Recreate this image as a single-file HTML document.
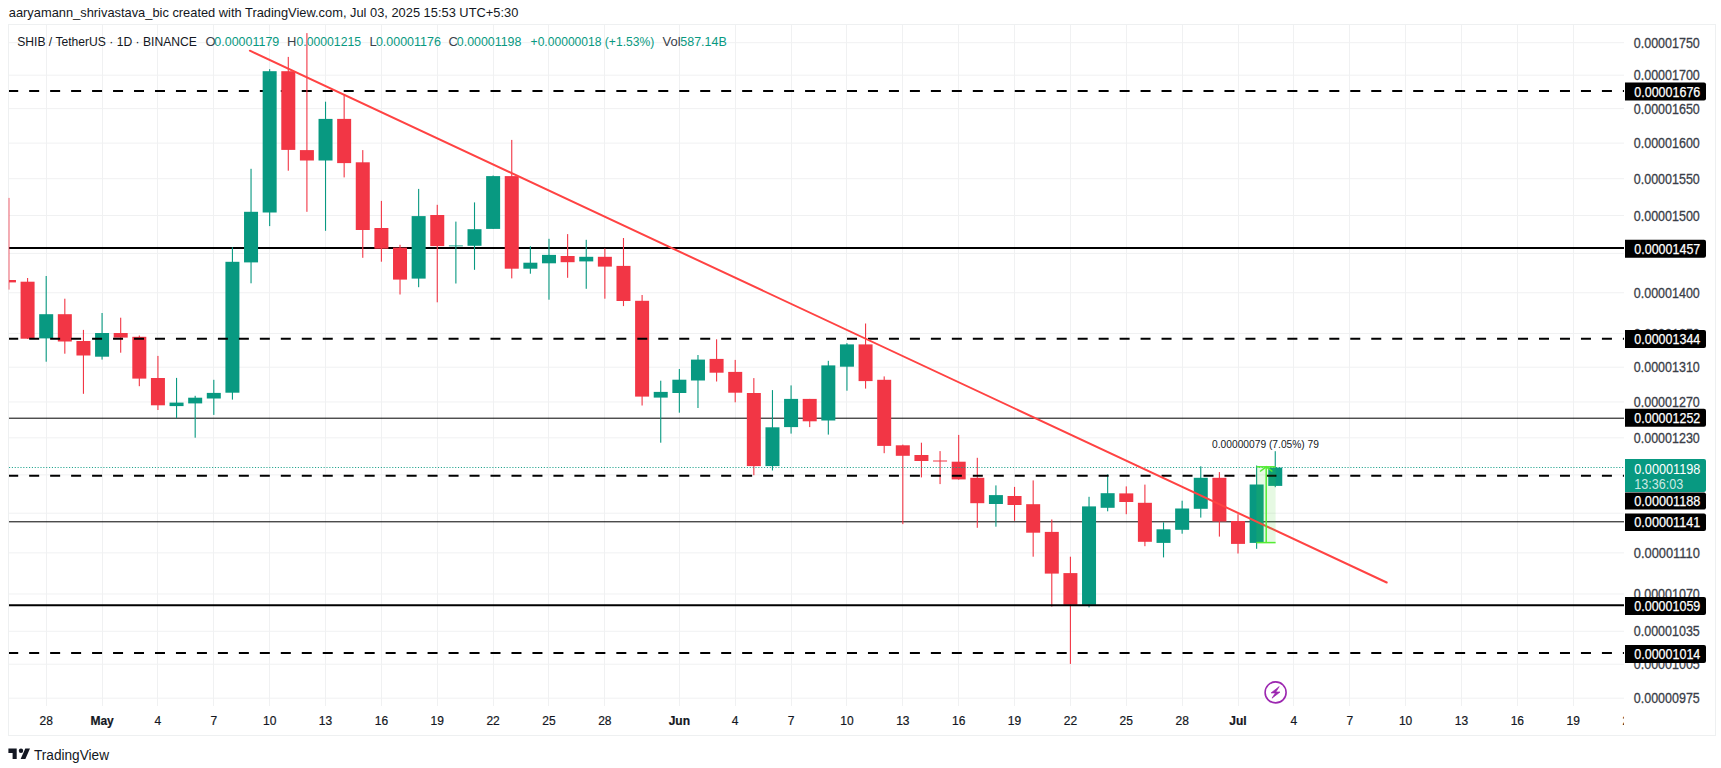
<!DOCTYPE html><html><head><meta charset="utf-8"><style>
html,body{margin:0;padding:0;background:#fff;width:1721px;height:768px;overflow:hidden;}
body{position:relative;font-family:"Liberation Sans",Arial,sans-serif;}
.t{position:absolute;white-space:nowrap;}
</style></head><body>
<svg width="1721" height="768" viewBox="0 0 1721 768" style="position:absolute;left:0;top:0">
<defs><clipPath id="taxis"><rect x="9" y="706" width="1615" height="30"/></clipPath><clipPath id="pane"><rect x="9" y="25" width="1615" height="681"/></clipPath></defs>
<rect x="8.5" y="24.5" width="1707" height="711" fill="none" stroke="#eef0f1" stroke-width="1"/>
<g stroke="#f0f1f2" stroke-width="1">
<line x1="9" y1="42.7" x2="1624" y2="42.7"/>
<line x1="9" y1="75.18" x2="1624" y2="75.18"/>
<line x1="9" y1="108.64" x2="1624" y2="108.64"/>
<line x1="9" y1="143.12" x2="1624" y2="143.12"/>
<line x1="9" y1="178.7" x2="1624" y2="178.7"/>
<line x1="9" y1="215.44" x2="1624" y2="215.44"/>
<line x1="9" y1="253.43" x2="1624" y2="253.43"/>
<line x1="9" y1="292.75" x2="1624" y2="292.75"/>
<line x1="9" y1="333.51" x2="1624" y2="333.51"/>
<line x1="9" y1="367.21" x2="1624" y2="367.21"/>
<line x1="9" y1="401.96" x2="1624" y2="401.96"/>
<line x1="9" y1="437.83" x2="1624" y2="437.83"/>
<line x1="9" y1="474.87" x2="1624" y2="474.87"/>
<line x1="9" y1="513.19" x2="1624" y2="513.19"/>
<line x1="9" y1="552.86" x2="1624" y2="552.86"/>
<line x1="9" y1="593.99" x2="1624" y2="593.99"/>
<line x1="9" y1="631.26" x2="1624" y2="631.26"/>
<line x1="9" y1="664.22" x2="1624" y2="664.22"/>
<line x1="9" y1="698.18" x2="1624" y2="698.18"/>
<line x1="46.5" y1="25" x2="46.5" y2="706"/>
<line x1="102.5" y1="25" x2="102.5" y2="706"/>
<line x1="157.5" y1="25" x2="157.5" y2="706"/>
<line x1="213.5" y1="25" x2="213.5" y2="706"/>
<line x1="269.5" y1="25" x2="269.5" y2="706"/>
<line x1="325.5" y1="25" x2="325.5" y2="706"/>
<line x1="381.5" y1="25" x2="381.5" y2="706"/>
<line x1="437.5" y1="25" x2="437.5" y2="706"/>
<line x1="493.5" y1="25" x2="493.5" y2="706"/>
<line x1="548.5" y1="25" x2="548.5" y2="706"/>
<line x1="604.5" y1="25" x2="604.5" y2="706"/>
<line x1="679.5" y1="25" x2="679.5" y2="706"/>
<line x1="735.5" y1="25" x2="735.5" y2="706"/>
<line x1="791.5" y1="25" x2="791.5" y2="706"/>
<line x1="846.5" y1="25" x2="846.5" y2="706"/>
<line x1="902.5" y1="25" x2="902.5" y2="706"/>
<line x1="958.5" y1="25" x2="958.5" y2="706"/>
<line x1="1014.5" y1="25" x2="1014.5" y2="706"/>
<line x1="1070.5" y1="25" x2="1070.5" y2="706"/>
<line x1="1126.5" y1="25" x2="1126.5" y2="706"/>
<line x1="1182.5" y1="25" x2="1182.5" y2="706"/>
<line x1="1238.5" y1="25" x2="1238.5" y2="706"/>
<line x1="1293.5" y1="25" x2="1293.5" y2="706"/>
<line x1="1349.5" y1="25" x2="1349.5" y2="706"/>
<line x1="1405.5" y1="25" x2="1405.5" y2="706"/>
<line x1="1461.5" y1="25" x2="1461.5" y2="706"/>
<line x1="1517.5" y1="25" x2="1517.5" y2="706"/>
<line x1="1573.5" y1="25" x2="1573.5" y2="706"/>
</g>
<g clip-path="url(#pane)">
<line x1="8.2" y1="91" x2="1624" y2="91" stroke="#000" stroke-width="2" stroke-dasharray="10 10.97"/>
<line x1="9" y1="248" x2="1624" y2="248" stroke="#000" stroke-width="2"/>
<line x1="9" y1="418.2" x2="1624" y2="418.2" stroke="#000" stroke-width="1"/>
<line x1="9" y1="521.8" x2="1624" y2="521.8" stroke="#000" stroke-width="1"/>
</g><rect x="8.3" y="197.9" width="1.5" height="91.7" fill="#F23645" fill-opacity="0.5"/><g clip-path="url(#pane)">
<rect x="1.96" y="280" width="14" height="2.4" fill="#F23645"/>
<rect x="27.03" y="278" width="1.1" height="60.9" fill="#F23645"/>
<rect x="20.58" y="281.7" width="14" height="57" fill="#F23645"/>
<rect x="45.65" y="276" width="1.1" height="85.7" fill="#089981"/>
<rect x="39.2" y="314.2" width="14" height="24.2" fill="#089981"/>
<rect x="64.27" y="298.7" width="1.1" height="55" fill="#F23645"/>
<rect x="57.82" y="314.2" width="14" height="27.3" fill="#F23645"/>
<rect x="82.89" y="329.9" width="1.1" height="63.9" fill="#F23645"/>
<rect x="76.44" y="341" width="14" height="14.5" fill="#F23645"/>
<rect x="101.52" y="313" width="1.1" height="46.6" fill="#089981"/>
<rect x="95.07" y="333" width="14" height="23.7" fill="#089981"/>
<rect x="120.14" y="317.7" width="1.1" height="35" fill="#F23645"/>
<rect x="113.69" y="333" width="14" height="4.6" fill="#F23645"/>
<rect x="138.76" y="335.5" width="1.1" height="50.7" fill="#F23645"/>
<rect x="132.31" y="336.8" width="14" height="41.8" fill="#F23645"/>
<rect x="157.38" y="355.9" width="1.1" height="54.1" fill="#F23645"/>
<rect x="150.93" y="378" width="14" height="27.3" fill="#F23645"/>
<rect x="176" y="377.9" width="1.1" height="40.2" fill="#089981"/>
<rect x="169.55" y="402.6" width="14" height="3.5" fill="#089981"/>
<rect x="194.63" y="395.8" width="1.1" height="41.9" fill="#089981"/>
<rect x="188.18" y="397.7" width="14" height="5.7" fill="#089981"/>
<rect x="213.25" y="379.8" width="1.1" height="35.1" fill="#089981"/>
<rect x="206.8" y="392.9" width="14" height="5.6" fill="#089981"/>
<rect x="231.87" y="247.2" width="1.1" height="152.4" fill="#089981"/>
<rect x="225.42" y="261.8" width="14" height="130.9" fill="#089981"/>
<rect x="250.49" y="168.8" width="1.1" height="114.5" fill="#089981"/>
<rect x="244.04" y="211.8" width="14" height="50.6" fill="#089981"/>
<rect x="269.11" y="69.1" width="1.1" height="157" fill="#089981"/>
<rect x="262.66" y="71.2" width="14" height="141.3" fill="#089981"/>
<rect x="287.74" y="56.9" width="1.1" height="113.8" fill="#F23645"/>
<rect x="281.29" y="71.2" width="14" height="78.7" fill="#F23645"/>
<rect x="306.36" y="33.1" width="1.1" height="178.7" fill="#F23645"/>
<rect x="299.91" y="150.1" width="14" height="10.4" fill="#F23645"/>
<rect x="324.98" y="101.7" width="1.1" height="129.1" fill="#089981"/>
<rect x="318.53" y="118.9" width="14" height="41.6" fill="#089981"/>
<rect x="343.6" y="94.1" width="1.1" height="83.3" fill="#F23645"/>
<rect x="337.15" y="118.9" width="14" height="44.2" fill="#F23645"/>
<rect x="362.22" y="150.1" width="1.1" height="107.7" fill="#F23645"/>
<rect x="355.77" y="162.3" width="14" height="67.7" fill="#F23645"/>
<rect x="380.85" y="200.9" width="1.1" height="60.8" fill="#F23645"/>
<rect x="374.4" y="228" width="14" height="20.7" fill="#F23645"/>
<rect x="399.47" y="244.8" width="1.1" height="49.7" fill="#F23645"/>
<rect x="393.02" y="247.6" width="14" height="32" fill="#F23645"/>
<rect x="418.09" y="188.9" width="1.1" height="98.3" fill="#089981"/>
<rect x="411.64" y="216.1" width="14" height="62.5" fill="#089981"/>
<rect x="436.71" y="204.8" width="1.1" height="97.5" fill="#F23645"/>
<rect x="430.26" y="215" width="14" height="31.1" fill="#F23645"/>
<rect x="455.33" y="221.6" width="1.1" height="61.9" fill="#089981"/>
<rect x="448.88" y="245.1" width="14" height="1.4" fill="#089981" fill-opacity="0.6"/>
<rect x="473.96" y="202.4" width="1.1" height="67.4" fill="#089981"/>
<rect x="467.51" y="229.2" width="14" height="16.6" fill="#089981"/>
<rect x="492.58" y="175.5" width="1.1" height="53.4" fill="#089981"/>
<rect x="486.13" y="176.1" width="14" height="52.8" fill="#089981"/>
<rect x="511.2" y="139.9" width="1.1" height="138.5" fill="#F23645"/>
<rect x="504.75" y="176.1" width="14" height="92.6" fill="#F23645"/>
<rect x="529.82" y="246.3" width="1.1" height="27.4" fill="#089981"/>
<rect x="523.37" y="262.7" width="14" height="6" fill="#089981"/>
<rect x="548.44" y="238.8" width="1.1" height="60.9" fill="#089981"/>
<rect x="541.99" y="254.9" width="14" height="8.4" fill="#089981"/>
<rect x="567.07" y="234.1" width="1.1" height="43.7" fill="#F23645"/>
<rect x="560.62" y="256" width="14" height="6.2" fill="#F23645"/>
<rect x="585.69" y="239.8" width="1.1" height="49" fill="#089981"/>
<rect x="579.24" y="256.8" width="14" height="4.6" fill="#089981"/>
<rect x="604.31" y="248.4" width="1.1" height="50.3" fill="#F23645"/>
<rect x="597.86" y="256.8" width="14" height="9.8" fill="#F23645"/>
<rect x="622.93" y="238" width="1.1" height="68.1" fill="#F23645"/>
<rect x="616.48" y="265.9" width="14" height="35.1" fill="#F23645"/>
<rect x="641.55" y="295" width="1.1" height="110.5" fill="#F23645"/>
<rect x="635.1" y="300.8" width="14" height="95.8" fill="#F23645"/>
<rect x="660.18" y="380.7" width="1.1" height="62" fill="#089981"/>
<rect x="653.73" y="391.9" width="14" height="5.7" fill="#089981"/>
<rect x="678.8" y="369" width="1.1" height="43.7" fill="#089981"/>
<rect x="672.35" y="379.7" width="14" height="13.3" fill="#089981"/>
<rect x="697.42" y="355" width="1.1" height="53" fill="#089981"/>
<rect x="690.97" y="359.6" width="14" height="20.9" fill="#089981"/>
<rect x="716.04" y="339.3" width="1.1" height="42.2" fill="#F23645"/>
<rect x="709.59" y="358.9" width="14" height="13.8" fill="#F23645"/>
<rect x="734.66" y="359.9" width="1.1" height="42.4" fill="#F23645"/>
<rect x="728.21" y="371.9" width="14" height="20.8" fill="#F23645"/>
<rect x="753.29" y="378.1" width="1.1" height="97.1" fill="#F23645"/>
<rect x="746.84" y="393" width="14" height="73.1" fill="#F23645"/>
<rect x="771.91" y="390.1" width="1.1" height="80.4" fill="#089981"/>
<rect x="765.46" y="427.3" width="14" height="38.8" fill="#089981"/>
<rect x="790.53" y="385.4" width="1.1" height="48.2" fill="#089981"/>
<rect x="784.08" y="398.9" width="14" height="28.2" fill="#089981"/>
<rect x="809.15" y="398.9" width="1.1" height="28.2" fill="#F23645"/>
<rect x="802.7" y="398.9" width="14" height="22.4" fill="#F23645"/>
<rect x="827.77" y="360.8" width="1.1" height="73.8" fill="#089981"/>
<rect x="821.32" y="365.4" width="14" height="55.1" fill="#089981"/>
<rect x="846.4" y="343.1" width="1.1" height="47.6" fill="#089981"/>
<rect x="839.95" y="344.4" width="14" height="22.3" fill="#089981"/>
<rect x="865.02" y="323.5" width="1.1" height="65.1" fill="#F23645"/>
<rect x="858.57" y="344.4" width="14" height="36.7" fill="#F23645"/>
<rect x="883.64" y="376.4" width="1.1" height="76.8" fill="#F23645"/>
<rect x="877.19" y="379.8" width="14" height="66.1" fill="#F23645"/>
<rect x="902.26" y="444.6" width="1.1" height="79.5" fill="#F23645"/>
<rect x="895.81" y="445.3" width="14" height="10.5" fill="#F23645"/>
<rect x="920.88" y="442.7" width="1.1" height="34.7" fill="#F23645"/>
<rect x="914.43" y="455" width="14" height="6" fill="#F23645"/>
<rect x="939.51" y="451.1" width="1.1" height="33" fill="#F23645"/>
<rect x="933.06" y="460.5" width="14" height="1" fill="#F23645"/>
<rect x="958.13" y="434.9" width="1.1" height="44.8" fill="#F23645"/>
<rect x="951.68" y="461.7" width="14" height="17.7" fill="#F23645"/>
<rect x="976.75" y="457.8" width="1.1" height="70" fill="#F23645"/>
<rect x="970.3" y="477.8" width="14" height="25.4" fill="#F23645"/>
<rect x="995.37" y="485.4" width="1.1" height="41.3" fill="#089981"/>
<rect x="988.92" y="495.1" width="14" height="8.9" fill="#089981"/>
<rect x="1013.99" y="486.9" width="1.1" height="33.9" fill="#F23645"/>
<rect x="1007.54" y="496" width="14" height="9" fill="#F23645"/>
<rect x="1032.62" y="480.4" width="1.1" height="76.3" fill="#F23645"/>
<rect x="1026.17" y="504.2" width="14" height="28.5" fill="#F23645"/>
<rect x="1051.24" y="519.5" width="1.1" height="87.1" fill="#F23645"/>
<rect x="1044.79" y="531.9" width="14" height="41.7" fill="#F23645"/>
<rect x="1069.86" y="556.7" width="1.1" height="107.2" fill="#F23645"/>
<rect x="1063.41" y="573.1" width="14" height="31.7" fill="#F23645"/>
<rect x="1088.48" y="496.8" width="1.1" height="110.6" fill="#089981"/>
<rect x="1082.03" y="506.4" width="14" height="98.4" fill="#089981"/>
<rect x="1107.1" y="474.3" width="1.1" height="37" fill="#089981"/>
<rect x="1100.65" y="493.2" width="14" height="14.6" fill="#089981"/>
<rect x="1125.73" y="486.4" width="1.1" height="27.8" fill="#F23645"/>
<rect x="1119.28" y="493.4" width="14" height="8.6" fill="#F23645"/>
<rect x="1144.35" y="484.6" width="1.1" height="61.6" fill="#F23645"/>
<rect x="1137.9" y="502.8" width="14" height="39" fill="#F23645"/>
<rect x="1162.97" y="522.3" width="1.1" height="35.1" fill="#089981"/>
<rect x="1156.52" y="529.3" width="14" height="13.6" fill="#089981"/>
<rect x="1181.59" y="500.7" width="1.1" height="33" fill="#089981"/>
<rect x="1175.14" y="508.5" width="14" height="21.3" fill="#089981"/>
<rect x="1200.21" y="466.3" width="1.1" height="51.3" fill="#089981"/>
<rect x="1193.76" y="477.8" width="14" height="31" fill="#089981"/>
<rect x="1218.84" y="472.1" width="1.1" height="64.5" fill="#F23645"/>
<rect x="1212.39" y="477.8" width="14" height="43.7" fill="#F23645"/>
<rect x="1237.46" y="514.2" width="1.1" height="39.3" fill="#F23645"/>
<rect x="1231.01" y="521" width="14" height="22.9" fill="#F23645"/>
<rect x="1256.08" y="465.5" width="1.1" height="83.3" fill="#089981"/>
<rect x="1249.63" y="484.5" width="14" height="58.4" fill="#089981"/>
<rect x="1274.7" y="451.2" width="1.1" height="36" fill="#089981"/>
<rect x="1268.25" y="467.6" width="14" height="18.3" fill="#089981"/>
<line x1="8.2" y1="338.7" x2="1624" y2="338.7" stroke="#000" stroke-width="2" stroke-dasharray="10 10.97"/>
<line x1="8.2" y1="475.7" x2="1624" y2="475.7" stroke="#000" stroke-width="2" stroke-dasharray="10 10.97"/>
<line x1="9" y1="605.2" x2="1624" y2="605.2" stroke="#000" stroke-width="2"/>
<line x1="8.2" y1="653" x2="1624" y2="653" stroke="#000" stroke-width="2" stroke-dasharray="10 10.97"/>
<line x1="9" y1="467.5" x2="1624" y2="467.5" stroke="#089981" stroke-width="1" stroke-opacity="0.9" stroke-dasharray="1.1 1.76"/>
<line x1="249.9" y1="50.7" x2="1386.7" y2="582.5" stroke="#FF4343" stroke-width="2" stroke-linecap="round"/>
</g>
<g font-family="Liberation Sans, Arial, sans-serif"><text x="1633.8" y="47.8" font-size="14" fill="#3a3e48" text-anchor="start" font-weight="normal" stroke="#3a3e48" stroke-width="0.3" textLength="66" lengthAdjust="spacingAndGlyphs">0.00001750</text><text x="1633.8" y="80.2834" font-size="14" fill="#3a3e48" text-anchor="start" font-weight="normal" stroke="#3a3e48" stroke-width="0.3" textLength="66" lengthAdjust="spacingAndGlyphs">0.00001700</text><text x="1633.8" y="113.737" font-size="14" fill="#3a3e48" text-anchor="start" font-weight="normal" stroke="#3a3e48" stroke-width="0.3" textLength="66" lengthAdjust="spacingAndGlyphs">0.00001650</text><text x="1633.8" y="148.219" font-size="14" fill="#3a3e48" text-anchor="start" font-weight="normal" stroke="#3a3e48" stroke-width="0.3" textLength="66" lengthAdjust="spacingAndGlyphs">0.00001600</text><text x="1633.8" y="183.797" font-size="14" fill="#3a3e48" text-anchor="start" font-weight="normal" stroke="#3a3e48" stroke-width="0.3" textLength="66" lengthAdjust="spacingAndGlyphs">0.00001550</text><text x="1633.8" y="220.541" font-size="14" fill="#3a3e48" text-anchor="start" font-weight="normal" stroke="#3a3e48" stroke-width="0.3" textLength="66" lengthAdjust="spacingAndGlyphs">0.00001500</text><text x="1633.8" y="297.855" font-size="14" fill="#3a3e48" text-anchor="start" font-weight="normal" stroke="#3a3e48" stroke-width="0.3" textLength="66" lengthAdjust="spacingAndGlyphs">0.00001400</text><text x="1633.8" y="338.608" font-size="14" fill="#3a3e48" text-anchor="start" font-weight="normal" stroke="#3a3e48" stroke-width="0.3" textLength="66" lengthAdjust="spacingAndGlyphs">0.00001350</text><text x="1633.8" y="372.313" font-size="14" fill="#3a3e48" text-anchor="start" font-weight="normal" stroke="#3a3e48" stroke-width="0.3" textLength="66" lengthAdjust="spacingAndGlyphs">0.00001310</text><text x="1633.8" y="407.063" font-size="14" fill="#3a3e48" text-anchor="start" font-weight="normal" stroke="#3a3e48" stroke-width="0.3" textLength="66" lengthAdjust="spacingAndGlyphs">0.00001270</text><text x="1633.8" y="442.925" font-size="14" fill="#3a3e48" text-anchor="start" font-weight="normal" stroke="#3a3e48" stroke-width="0.3" textLength="66" lengthAdjust="spacingAndGlyphs">0.00001230</text><text x="1633.8" y="557.96" font-size="14" fill="#3a3e48" text-anchor="start" font-weight="normal" stroke="#3a3e48" stroke-width="0.3" textLength="66" lengthAdjust="spacingAndGlyphs">0.00001110</text><text x="1633.8" y="599.087" font-size="14" fill="#3a3e48" text-anchor="start" font-weight="normal" stroke="#3a3e48" stroke-width="0.3" textLength="66" lengthAdjust="spacingAndGlyphs">0.00001070</text><text x="1633.8" y="636.355" font-size="14" fill="#3a3e48" text-anchor="start" font-weight="normal" stroke="#3a3e48" stroke-width="0.3" textLength="66" lengthAdjust="spacingAndGlyphs">0.00001035</text><text x="1633.8" y="669.316" font-size="14" fill="#3a3e48" text-anchor="start" font-weight="normal" stroke="#3a3e48" stroke-width="0.3" textLength="66" lengthAdjust="spacingAndGlyphs">0.00001005</text><text x="1633.8" y="703.277" font-size="14" fill="#3a3e48" text-anchor="start" font-weight="normal" stroke="#3a3e48" stroke-width="0.3" textLength="66" lengthAdjust="spacingAndGlyphs">0.00000975</text></g>
<path d="M1625 82.6 H1704 a2 2 0 0 1 2 2 V98.6 a2 2 0 0 1 -2 2 H1625 Z" fill="#000"/>
<path d="M1625 239.7 H1704 a2 2 0 0 1 2 2 V255.7 a2 2 0 0 1 -2 2 H1625 Z" fill="#000"/>
<path d="M1625 329.9 H1704 a2 2 0 0 1 2 2 V345.9 a2 2 0 0 1 -2 2 H1625 Z" fill="#000"/>
<path d="M1625 408.7 H1704 a2 2 0 0 1 2 2 V424.7 a2 2 0 0 1 -2 2 H1625 Z" fill="#000"/>
<path d="M1625 459 H1704 a2 2 0 0 1 2 2 V490 a2 2 0 0 1 -2 2 H1625 Z" fill="#089981"/>
<path d="M1625 492.4 H1704 a2 2 0 0 1 2 2 V507.6 a2 2 0 0 1 -2 2 H1625 Z" fill="#000"/>
<path d="M1625 513.6 H1704 a2 2 0 0 1 2 2 V529 a2 2 0 0 1 -2 2 H1625 Z" fill="#000"/>
<path d="M1625 597.1 H1704 a2 2 0 0 1 2 2 V613.1 a2 2 0 0 1 -2 2 H1625 Z" fill="#000"/>
<path d="M1625 644.9 H1704 a2 2 0 0 1 2 2 V660.9 a2 2 0 0 1 -2 2 H1625 Z" fill="#000"/>
<g font-family="Liberation Sans, Arial, sans-serif"><text x="1634.3" y="96.6" font-size="14" fill="#fff" stroke="#fff" stroke-width="0.25" textLength="66" lengthAdjust="spacingAndGlyphs">0.00001676</text><text x="1634.3" y="253.7" font-size="14" fill="#fff" stroke="#fff" stroke-width="0.25" textLength="66" lengthAdjust="spacingAndGlyphs">0.00001457</text><text x="1634.3" y="343.9" font-size="14" fill="#fff" stroke="#fff" stroke-width="0.25" textLength="66" lengthAdjust="spacingAndGlyphs">0.00001344</text><text x="1634.3" y="422.7" font-size="14" fill="#fff" stroke="#fff" stroke-width="0.25" textLength="66" lengthAdjust="spacingAndGlyphs">0.00001252</text><text x="1634.3" y="473.6" font-size="14" fill="#fff" textLength="66" lengthAdjust="spacingAndGlyphs">0.00001198</text><text x="1634.3" y="488.8" font-size="14" fill="#fff" fill-opacity="0.8" textLength="49" lengthAdjust="spacingAndGlyphs">13:36:03</text><text x="1634.3" y="506" font-size="14" fill="#fff" stroke="#fff" stroke-width="0.25" textLength="66" lengthAdjust="spacingAndGlyphs">0.00001188</text><text x="1634.3" y="527.3" font-size="14" fill="#fff" stroke="#fff" stroke-width="0.25" textLength="66" lengthAdjust="spacingAndGlyphs">0.00001141</text><text x="1634.3" y="611.1" font-size="14" fill="#fff" stroke="#fff" stroke-width="0.25" textLength="66" lengthAdjust="spacingAndGlyphs">0.00001059</text><text x="1634.3" y="658.9" font-size="14" fill="#fff" stroke="#fff" stroke-width="0.25" textLength="66" lengthAdjust="spacingAndGlyphs">0.00001014</text></g>
<g font-family="Liberation Sans, Arial, sans-serif" clip-path="url(#taxis)"><text x="46.2" y="725.3" font-size="12" fill="#131722" text-anchor="middle" font-weight="normal" stroke="#131722" stroke-width="0.2">28</text><text x="102.066" y="725.3" font-size="12" fill="#131722" text-anchor="middle" font-weight="bold" stroke="#131722" stroke-width="0.2">May</text><text x="157.932" y="725.3" font-size="12" fill="#131722" text-anchor="middle" font-weight="normal" stroke="#131722" stroke-width="0.2">4</text><text x="213.798" y="725.3" font-size="12" fill="#131722" text-anchor="middle" font-weight="normal" stroke="#131722" stroke-width="0.2">7</text><text x="269.664" y="725.3" font-size="12" fill="#131722" text-anchor="middle" font-weight="normal" stroke="#131722" stroke-width="0.2">10</text><text x="325.53" y="725.3" font-size="12" fill="#131722" text-anchor="middle" font-weight="normal" stroke="#131722" stroke-width="0.2">13</text><text x="381.396" y="725.3" font-size="12" fill="#131722" text-anchor="middle" font-weight="normal" stroke="#131722" stroke-width="0.2">16</text><text x="437.262" y="725.3" font-size="12" fill="#131722" text-anchor="middle" font-weight="normal" stroke="#131722" stroke-width="0.2">19</text><text x="493.128" y="725.3" font-size="12" fill="#131722" text-anchor="middle" font-weight="normal" stroke="#131722" stroke-width="0.2">22</text><text x="548.994" y="725.3" font-size="12" fill="#131722" text-anchor="middle" font-weight="normal" stroke="#131722" stroke-width="0.2">25</text><text x="604.86" y="725.3" font-size="12" fill="#131722" text-anchor="middle" font-weight="normal" stroke="#131722" stroke-width="0.2">28</text><text x="679.348" y="725.3" font-size="12" fill="#131722" text-anchor="middle" font-weight="bold" stroke="#131722" stroke-width="0.2">Jun</text><text x="735.214" y="725.3" font-size="12" fill="#131722" text-anchor="middle" font-weight="normal" stroke="#131722" stroke-width="0.2">4</text><text x="791.08" y="725.3" font-size="12" fill="#131722" text-anchor="middle" font-weight="normal" stroke="#131722" stroke-width="0.2">7</text><text x="846.946" y="725.3" font-size="12" fill="#131722" text-anchor="middle" font-weight="normal" stroke="#131722" stroke-width="0.2">10</text><text x="902.812" y="725.3" font-size="12" fill="#131722" text-anchor="middle" font-weight="normal" stroke="#131722" stroke-width="0.2">13</text><text x="958.678" y="725.3" font-size="12" fill="#131722" text-anchor="middle" font-weight="normal" stroke="#131722" stroke-width="0.2">16</text><text x="1014.54" y="725.3" font-size="12" fill="#131722" text-anchor="middle" font-weight="normal" stroke="#131722" stroke-width="0.2">19</text><text x="1070.41" y="725.3" font-size="12" fill="#131722" text-anchor="middle" font-weight="normal" stroke="#131722" stroke-width="0.2">22</text><text x="1126.28" y="725.3" font-size="12" fill="#131722" text-anchor="middle" font-weight="normal" stroke="#131722" stroke-width="0.2">25</text><text x="1182.14" y="725.3" font-size="12" fill="#131722" text-anchor="middle" font-weight="normal" stroke="#131722" stroke-width="0.2">28</text><text x="1238.01" y="725.3" font-size="12" fill="#131722" text-anchor="middle" font-weight="bold" stroke="#131722" stroke-width="0.2">Jul</text><text x="1293.87" y="725.3" font-size="12" fill="#131722" text-anchor="middle" font-weight="normal" stroke="#131722" stroke-width="0.2">4</text><text x="1349.74" y="725.3" font-size="12" fill="#131722" text-anchor="middle" font-weight="normal" stroke="#131722" stroke-width="0.2">7</text><text x="1405.61" y="725.3" font-size="12" fill="#131722" text-anchor="middle" font-weight="normal" stroke="#131722" stroke-width="0.2">10</text><text x="1461.47" y="725.3" font-size="12" fill="#131722" text-anchor="middle" font-weight="normal" stroke="#131722" stroke-width="0.2">13</text><text x="1517.34" y="725.3" font-size="12" fill="#131722" text-anchor="middle" font-weight="normal" stroke="#131722" stroke-width="0.2">16</text><text x="1573.2" y="725.3" font-size="12" fill="#131722" text-anchor="middle" font-weight="normal" stroke="#131722" stroke-width="0.2">19</text><text x="1629.07" y="725.3" font-size="12" fill="#131722" text-anchor="middle" font-weight="normal" stroke="#131722" stroke-width="0.2">22</text></g>
<g font-family="Liberation Sans, Arial, sans-serif"><text x="8.8" y="16.8" font-size="13" fill="#131722" text-anchor="start" font-weight="normal" textLength="509.5" lengthAdjust="spacingAndGlyphs">aaryamann_shrivastava_bic created with TradingView.com, Jul 03, 2025 15:53 UTC+5:30</text><text x="17.2" y="45.5" font-size="13" fill="#131722" text-anchor="start" font-weight="normal" textLength="179.7" lengthAdjust="spacingAndGlyphs">SHIB / TetherUS · 1D · BINANCE</text><text x="205.4" y="45.5" font-size="13" fill="#3b3f4a" text-anchor="start" font-weight="normal">O</text><text x="214.3" y="45.5" font-size="13" fill="#089981" text-anchor="start" font-weight="normal" textLength="65" lengthAdjust="spacingAndGlyphs">0.00001179</text><text x="287.1" y="45.5" font-size="13" fill="#3b3f4a" text-anchor="start" font-weight="normal">H</text><text x="296.5" y="45.5" font-size="13" fill="#089981" text-anchor="start" font-weight="normal" textLength="64.5" lengthAdjust="spacingAndGlyphs">0.00001215</text><text x="369.6" y="45.5" font-size="13" fill="#3b3f4a" text-anchor="start" font-weight="normal">L</text><text x="375.9" y="45.5" font-size="13" fill="#089981" text-anchor="start" font-weight="normal" textLength="65" lengthAdjust="spacingAndGlyphs">0.00001176</text><text x="448.6" y="45.5" font-size="13" fill="#3b3f4a" text-anchor="start" font-weight="normal">C</text><text x="456.8" y="45.5" font-size="13" fill="#089981" text-anchor="start" font-weight="normal" textLength="64.6" lengthAdjust="spacingAndGlyphs">0.00001198</text><text x="530.6" y="45.5" font-size="13" fill="#089981" text-anchor="start" font-weight="normal" textLength="123.6" lengthAdjust="spacingAndGlyphs">+0.00000018 (+1.53%)</text><text x="662.6" y="45.5" font-size="13" fill="#3b3f4a" text-anchor="start" font-weight="normal">Vol</text><text x="680.3" y="45.5" font-size="13" fill="#089981" text-anchor="start" font-weight="normal" textLength="46.5" lengthAdjust="spacingAndGlyphs">587.14B</text></g>
<rect x="1256.4" y="466.3" width="19.2" height="76.8" fill="#4cd137" fill-opacity="0.14"/>
<line x1="1256.4" y1="466.8" x2="1275.6" y2="466.8" stroke="#55ec34" stroke-width="1.5"/>
<line x1="1256.4" y1="542.6" x2="1275.6" y2="542.6" stroke="#55ec34" stroke-width="1.5"/>
<line x1="1266.2" y1="542.6" x2="1266.2" y2="467" stroke="#55ec34" stroke-width="1.5"/>
<polyline points="1260,471.5 1266.2,466.8 1272.4,471.5" fill="none" stroke="#55ec34" stroke-width="1.5"/>
<g font-family="Liberation Sans, Arial, sans-serif"><text x="1212.1" y="447.5" font-size="10.8" fill="#131722" text-anchor="start" font-weight="normal" textLength="106.9" lengthAdjust="spacingAndGlyphs">0.00000079 (7.05%) 79</text></g>
<circle cx="1275.6" cy="692.4" r="10.5" fill="#fff" stroke="#9c27b0" stroke-width="1.6"/>
<path d="M1279.2 686.6 L1271.1 692.9 L1275.4 692.9 L1272.0 698.2 L1280.0 692.0 L1275.8 692.0 Z" fill="#9c27b0" stroke="#9c27b0" stroke-width="0.7" stroke-linejoin="round"/>
<path d="M8.4 748.4 H16.7 V759 H12.6 V752.9 H8.4 Z" fill="#131722"/>
<circle cx="21" cy="750.8" r="2.2" fill="#131722"/>
<path d="M25.3 748.4 H30 L25.4 759 H20.6 Z" fill="#131722"/>
<g font-family="Liberation Sans, Arial, sans-serif"><text x="34" y="759.6" font-size="14" fill="#131722" text-anchor="start" font-weight="normal" textLength="75" lengthAdjust="spacingAndGlyphs">TradingView</text></g>
</svg>
</body></html>
